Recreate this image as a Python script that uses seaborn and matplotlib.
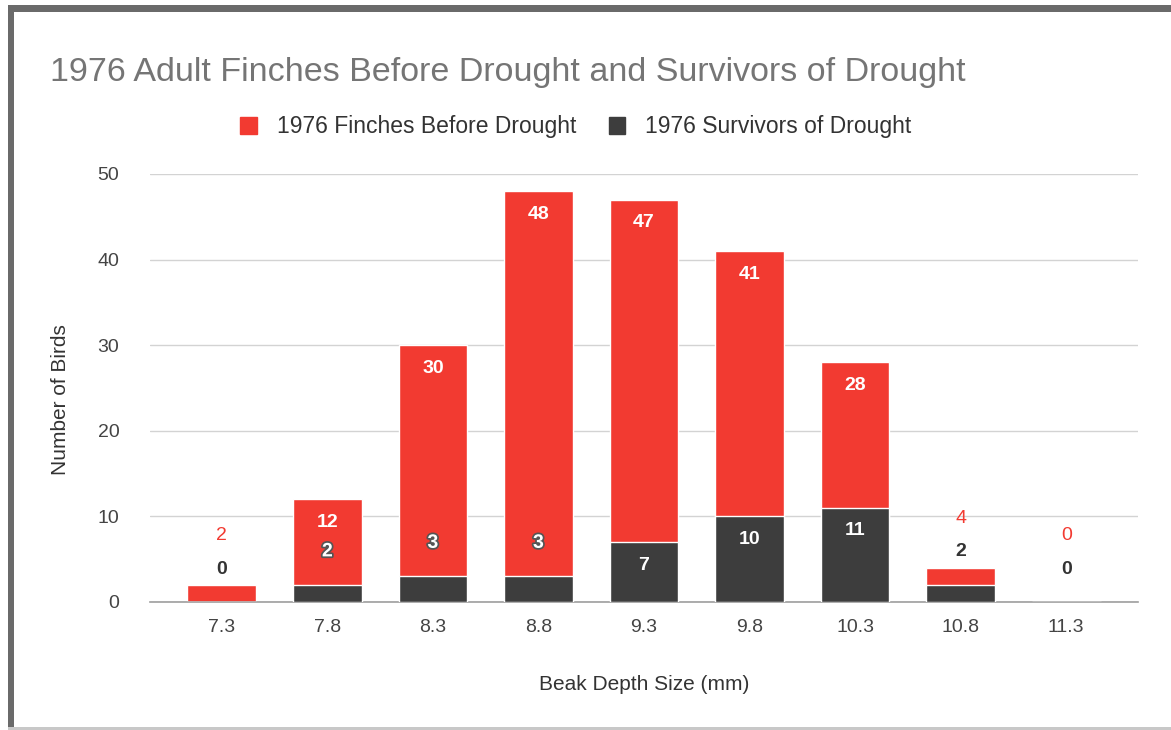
import matplotlib
matplotlib.use("Agg")
import matplotlib.pyplot as plt
import matplotlib.patheffects as pe
from matplotlib.patches import Rectangle
import seaborn as sns
import pandas as pd

# Beak depth bins and counts per bin
beak_depth = ["7.3", "7.8", "8.3", "8.8", "9.3", "9.8", "10.3", "10.8", "11.3"]
before_drought = [2, 12, 30, 48, 47, 41, 28, 4, 0]
survivors = [0, 2, 3, 3, 7, 10, 11, 2, 0]

title = "1976 Adult Finches Before Drought and Survivors of Drought"
series_names = ["1976 Finches Before Drought", "1976 Survivors of Drought"]

RED = "#f23a31"
DARK = "#3d3d3d"
GRAY_TEXT = "#757575"

df = pd.DataFrame({"beak": beak_depth, "before": before_drought, "after": survivors})

sns.set_theme(style="white")
plt.rcParams["font.family"] = ["Liberation Sans", "DejaVu Sans"]

W, H = 1171, 730
fig = plt.figure(figsize=(W / 100, H / 100), dpi=100)
ax = fig.add_axes([150 / W, 1 - 602 / H, (1138 - 150) / W, (602 - 174) / H])

sns.barplot(data=df, x="beak", y="before", order=beak_depth, color=RED,
            saturation=1, width=0.65, ax=ax, zorder=2)
sns.barplot(data=df, x="beak", y="after", order=beak_depth, color=DARK,
            saturation=1, width=0.65, ax=ax, zorder=3)

ax.set_xlim(-0.68, len(beak_depth) - 1 + 0.68)
ax.set_ylim(0, 50)
ax.set_yticks([0, 10, 20, 30, 40, 50])
ax.yaxis.grid(True, color="#d3d3d3", linewidth=1, zorder=0)
ax.set_axisbelow(True)
for s in ["top", "right", "left"]:
    ax.spines[s].set_visible(False)
ax.spines["bottom"].set_color("#9e9e9e")
ax.spines["bottom"].set_linewidth(1.2)
ax.tick_params(axis="both", length=0, labelsize=14, labelcolor="#444444")
ax.tick_params(axis="x", pad=12)
ax.tick_params(axis="y", pad=22)
ax.set_xlabel("Beak Depth Size (mm)", fontsize=15, color="#333333", labelpad=28)
ax.set_ylabel("Number of Birds", fontsize=15, color="#333333", labelpad=20)
ax.yaxis.label.set_y(0.472)

# Value labels: inside the bar when it is tall enough, stacked above otherwise
PX = 0.72  # points per pixel at 100 dpi
THRESH = 5
LBL = 14
for i, (b, a) in enumerate(zip(before_drought, survivors)):
    # survivors
    if a >= THRESH:
        ax.annotate(str(a), (i, a), xytext=(0, -23 * PX), textcoords="offset points",
                    ha="center", va="center", color="white", fontsize=LBL,
                    fontweight="bold", zorder=5)
    else:
        dark_off = 33
        on_red = b * 8.56 > dark_off + a * 8.56 + 8
        if on_red:
            ax.annotate(str(a), (i, a), xytext=(0, dark_off * PX), textcoords="offset points",
                        ha="center", va="center", color="white", fontsize=LBL,
                        fontweight="bold", zorder=5,
                        path_effects=[pe.withStroke(linewidth=2.5, foreground="#555555")])
        else:
            ax.annotate(str(a), (i, a), xytext=(0, dark_off * PX), textcoords="offset points",
                        ha="center", va="center", color="#333333", fontsize=LBL,
                        fontweight="bold", zorder=5)
    # before drought
    if b >= THRESH:
        ax.annotate(str(b), (i, b), xytext=(0, -23 * PX), textcoords="offset points",
                    ha="center", va="center", color="white", fontsize=LBL,
                    fontweight="bold", zorder=5)
    else:
        ax.annotate(str(b), (i, a), xytext=(0, 66 * PX), textcoords="offset points",
                    ha="center", va="center", color=RED, fontsize=LBL, zorder=5)

# Title
fig.text(50 / W, 1 - 72 / H, title, fontsize=24.5, color=GRAY_TEXT, ha="left", va="center")

# Legend
handles = [Rectangle((0, 0), 1, 1, color=RED), Rectangle((0, 0), 1, 1, color=DARK)]
fig.legend(handles, series_names, loc="center", bbox_to_anchor=(576 / W, 1 - 127 / H),
           ncol=2, frameon=False, fontsize=16.5, handlelength=0.7, handleheight=0.7,
           columnspacing=1.4, handletextpad=0.9, labelcolor="#333333")

# Outer frame
fig.add_artist(Rectangle((8 / W, 1 - 12 / H), 1, 7 / H, transform=fig.transFigure,
                         color="#6a6a6a", lw=0))
fig.add_artist(Rectangle((8 / W, 0), 6 / W, 1 - 6 / H, transform=fig.transFigure,
                         color="#6a6a6a", lw=0))
fig.add_artist(Rectangle((8 / W, 0), 1, 3 / H, transform=fig.transFigure,
                         color="#c8c8c8", lw=0))

fig.savefig("out.png", dpi=100)
